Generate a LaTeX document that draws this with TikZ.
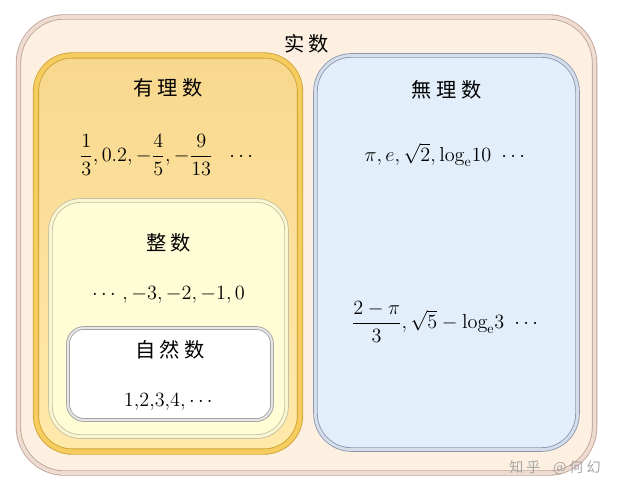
\documentclass[tikz,border=0pt]{standalone}
\usepackage{fontspec}
\usepackage{amsmath}
\usetikzlibrary{positioning, shadows}
\newfontfamily\cjk[LetterSpace=22]{Noto Sans CJK SC}
\definecolor{realfill}{HTML}{FDF0E1}
\definecolor{realedge}{HTML}{C2A296}
\definecolor{realrim}{HTML}{EEDCD2}
\definecolor{rattop}{HTML}{F8D88E}
\definecolor{ratbot}{HTML}{FFE9AA}
\definecolor{ratedge}{HTML}{CFA035}
\definecolor{ratrim}{HTML}{F5CD5E}
\definecolor{intfill}{HTML}{FFFDD6}
\definecolor{intedge}{HTML}{C4C0A2}
\definecolor{intrim}{HTML}{FBF6D2}
\definecolor{natedge}{HTML}{A2A2A2}
\definecolor{natrim}{HTML}{E6E6E6}
\definecolor{irrfill}{HTML}{E3EEFB}
\definecolor{irredge}{HTML}{8A98B0}
\definecolor{irrrim}{HTML}{D5DDEA}
\begin{document}
\begin{tikzpicture}
    [
        x=0.025cm, y=-0.025cm, on grid,
        set_box/.style={rectangle, inner sep=0pt, line width=0.6pt, double distance=2pt,
            drop shadow={shadow xshift=0.8pt, shadow yshift=-1.2pt, opacity=0.2}},
        real_box/.style={set_box, draw=realedge, double=realrim, double distance=2.6pt, fill=realfill, rounded corners=1.15cm, minimum width=14.4cm, minimum height=11.4cm},
        rat_box/.style={set_box, draw=ratedge, double=ratrim, double distance=3.2pt, top color=rattop, bottom color=ratbot, rounded corners=0.9cm, minimum width=6.6cm, minimum height=9.9cm},
        int_box/.style={set_box, draw=intedge, double=intrim, fill=intfill, rounded corners=0.75cm, minimum width=5.9cm, minimum height=5.9cm},
        nat_box/.style={set_box, draw=natedge, double=natrim, double distance=1.4pt, fill=white, rounded corners=0.4cm, minimum width=5.1cm, minimum height=2.3cm},
        irr_box/.style={set_box, draw=irredge, double=irrrim, fill=irrfill, rounded corners=0.9cm, minimum width=6.55cm, minimum height=9.85cm},
        cjk_text/.style={font=\cjk\Large, anchor=center},
        num_text/.style={font=\Large, anchor=center},
        wmark_text/.style={font=\cjk\normalsize, text=black!35},
    ]
        \useasboundingbox (0,0) rectangle (618,496);
        % boxes
        \node[real_box] (real) at (306.5,245) {};
        \node[rat_box] (rat) at (168,253.5) {};
        \node[int_box] (int) at (168.5,318.5) {};
        \node[nat_box] (nat) at (170,374) {};
        \node[irr_box] (irr) at (446.5,252.5) {};
        % names
        \node[below=0.675cm of real.north, cjk_text] (realname) {实数};
        \node[below=0.825cm of rat.north, cjk_text] (ratname) {有理数};
        \node[below=1.075cm of int.north, cjk_text] (intname) {整数};
        \node[below=0.55cm of nat.north, cjk_text] (natname) {自然数};
        \node[below=0.875cm of irr.north, cjk_text] (irrname) {無理数};
        % examples
        \node[below=2.5cm of rat.north, num_text] (ratnums) {$\dfrac{1}{3},0.2,-\dfrac{4}{5},-\dfrac{9}{13}\ \ \cdots$};
        \node[below=2.375cm of int.north, num_text] (intnums) {$\cdots,-3,-2,-1,0$};
        \node[below=1.85cm of nat.north, num_text] (natnums) {$1{,}2{,}3{,}4{,}\cdots$};
        \node[below=2.5cm of irr.north, num_text] (irrnums) {$\pi,e,\sqrt{2},\mathrm{log}_{\mathrm{e}}10\ \cdots$};
        \node[below=6.675cm of irr.north, num_text] (irrmore) {$\dfrac{2-\pi}{3},\sqrt{5}-\mathrm{log}_{\mathrm{e}}3\ \cdots$};
        \node[wmark_text] (wmark) at (555,468) {知乎\ \ @何幻};
\end{tikzpicture}
\end{document}
